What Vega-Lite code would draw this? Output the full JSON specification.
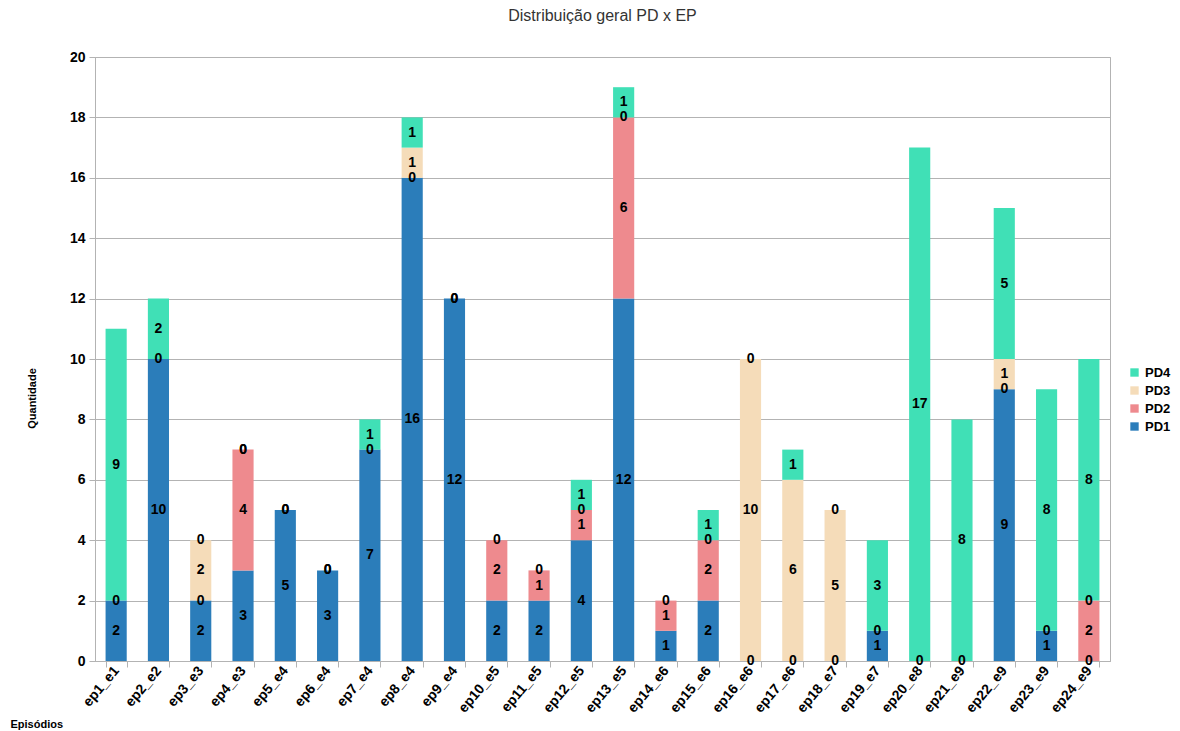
{
  "$schema": "https://vega.github.io/schema/vega-lite/v6.json",
  "autosize": "none",
  "width": 1015,
  "height": 604,
  "padding": {"left": 95, "top": 57, "right": 70, "bottom": 70},
  "background": "white",
  "config": {
    "font": "Liberation Sans",
    "view": {"stroke": "#b3b3b3", "strokeWidth": 1}
  },
  "title": {
    "text": "Distribuição geral PD x EP",
    "fontSize": 16,
    "fontWeight": "normal",
    "color": "#333333",
    "font": "Liberation Sans",
    "anchor": "middle",
    "offset": 26
  },
  "data": {
    "values": [
      {"ep": "ep1_e1", "pd": "PD1", "v": 2}, {"ep": "ep1_e1", "pd": "PD2", "v": 0}, {"ep": "ep1_e1", "pd": "PD4", "v": 9},
      {"ep": "ep2_e2", "pd": "PD1", "v": 10}, {"ep": "ep2_e2", "pd": "PD2", "v": 0}, {"ep": "ep2_e2", "pd": "PD4", "v": 2},
      {"ep": "ep3_e3", "pd": "PD1", "v": 2}, {"ep": "ep3_e3", "pd": "PD2", "v": 0}, {"ep": "ep3_e3", "pd": "PD3", "v": 2}, {"ep": "ep3_e3", "pd": "PD4", "v": 0},
      {"ep": "ep4_e3", "pd": "PD1", "v": 3}, {"ep": "ep4_e3", "pd": "PD2", "v": 4}, {"ep": "ep4_e3", "pd": "PD3", "v": 0}, {"ep": "ep4_e3", "pd": "PD4", "v": 0},
      {"ep": "ep5_e4", "pd": "PD1", "v": 5}, {"ep": "ep5_e4", "pd": "PD2", "v": 0}, {"ep": "ep5_e4", "pd": "PD3", "v": 0},
      {"ep": "ep6_e4", "pd": "PD1", "v": 3}, {"ep": "ep6_e4", "pd": "PD2", "v": 0}, {"ep": "ep6_e4", "pd": "PD3", "v": 0},
      {"ep": "ep7_e4", "pd": "PD1", "v": 7}, {"ep": "ep7_e4", "pd": "PD2", "v": 0}, {"ep": "ep7_e4", "pd": "PD4", "v": 1},
      {"ep": "ep8_e4", "pd": "PD1", "v": 16}, {"ep": "ep8_e4", "pd": "PD2", "v": 0}, {"ep": "ep8_e4", "pd": "PD3", "v": 1}, {"ep": "ep8_e4", "pd": "PD4", "v": 1},
      {"ep": "ep9_e4", "pd": "PD1", "v": 12}, {"ep": "ep9_e4", "pd": "PD2", "v": 0}, {"ep": "ep9_e4", "pd": "PD3", "v": 0},
      {"ep": "ep10_e5", "pd": "PD1", "v": 2}, {"ep": "ep10_e5", "pd": "PD2", "v": 2}, {"ep": "ep10_e5", "pd": "PD3", "v": 0},
      {"ep": "ep11_e5", "pd": "PD1", "v": 2}, {"ep": "ep11_e5", "pd": "PD2", "v": 1}, {"ep": "ep11_e5", "pd": "PD3", "v": 0},
      {"ep": "ep12_e5", "pd": "PD1", "v": 4}, {"ep": "ep12_e5", "pd": "PD2", "v": 1}, {"ep": "ep12_e5", "pd": "PD3", "v": 0}, {"ep": "ep12_e5", "pd": "PD4", "v": 1},
      {"ep": "ep13_e5", "pd": "PD1", "v": 12}, {"ep": "ep13_e5", "pd": "PD2", "v": 6}, {"ep": "ep13_e5", "pd": "PD3", "v": 0}, {"ep": "ep13_e5", "pd": "PD4", "v": 1},
      {"ep": "ep14_e6", "pd": "PD1", "v": 1}, {"ep": "ep14_e6", "pd": "PD2", "v": 1}, {"ep": "ep14_e6", "pd": "PD3", "v": 0},
      {"ep": "ep15_e6", "pd": "PD1", "v": 2}, {"ep": "ep15_e6", "pd": "PD2", "v": 2}, {"ep": "ep15_e6", "pd": "PD3", "v": 0}, {"ep": "ep15_e6", "pd": "PD4", "v": 1},
      {"ep": "ep16_e6", "pd": "PD1", "v": 0}, {"ep": "ep16_e6", "pd": "PD3", "v": 10}, {"ep": "ep16_e6", "pd": "PD4", "v": 0},
      {"ep": "ep17_e6", "pd": "PD1", "v": 0}, {"ep": "ep17_e6", "pd": "PD3", "v": 6}, {"ep": "ep17_e6", "pd": "PD4", "v": 1},
      {"ep": "ep18_e7", "pd": "PD1", "v": 0}, {"ep": "ep18_e7", "pd": "PD3", "v": 5}, {"ep": "ep18_e7", "pd": "PD4", "v": 0},
      {"ep": "ep19_e7", "pd": "PD1", "v": 1}, {"ep": "ep19_e7", "pd": "PD2", "v": 0}, {"ep": "ep19_e7", "pd": "PD4", "v": 3},
      {"ep": "ep20_e8", "pd": "PD1", "v": 0}, {"ep": "ep20_e8", "pd": "PD4", "v": 17},
      {"ep": "ep21_e9", "pd": "PD1", "v": 0}, {"ep": "ep21_e9", "pd": "PD4", "v": 8},
      {"ep": "ep22_e9", "pd": "PD1", "v": 9}, {"ep": "ep22_e9", "pd": "PD2", "v": 0}, {"ep": "ep22_e9", "pd": "PD3", "v": 1}, {"ep": "ep22_e9", "pd": "PD4", "v": 5},
      {"ep": "ep23_e9", "pd": "PD1", "v": 1}, {"ep": "ep23_e9", "pd": "PD2", "v": 0}, {"ep": "ep23_e9", "pd": "PD4", "v": 8},
      {"ep": "ep24_e9", "pd": "PD1", "v": 0}, {"ep": "ep24_e9", "pd": "PD2", "v": 2}, {"ep": "ep24_e9", "pd": "PD3", "v": 0}, {"ep": "ep24_e9", "pd": "PD4", "v": 8}
    ]
  },
  "transform": [
    {"stack": "v", "groupby": ["ep"], "sort": [{"field": "pd", "order": "ascending"}], "as": ["y0", "y1"]}
  ],
  "encoding": {
    "x": {
      "field": "ep",
      "type": "nominal",
      "sort": null,
      "scale": {"paddingInner": 0.5, "paddingOuter": 0.25},
      "axis": {
        "title": "Episódios",
        "titleFontSize": 11,
        "titleFontWeight": "bold",
        "titleColor": "#000000",
        "titleAnchor": "start",
        "titleAlign": "left",
        "titleBaseline": "alphabetic",
        "titleX": -85,
        "titleY": 66,
        "labelAngle": -50,
        "labelFontSize": 14,
        "labelFontWeight": "bold",
        "labelColor": "#000000",
        "labelPadding": 1,
        "tickBand": "extent",
        "tickColor": "#b3b3b3",
        "tickSize": 6,
        "domainColor": "#b3b3b3",
        "grid": false
      }
    }
  },
  "layer": [
    {
      "mark": {"type": "bar"},
      "encoding": {
        "y": {
          "field": "y1",
          "type": "quantitative",
          "scale": {"domain": [0, 20], "nice": false},
          "axis": {
            "title": "Quantidade",
            "titleFontSize": 11,
            "titleFontWeight": "bold",
            "titleColor": "#000000",
            "titleX": -58,
            "titleY": 341,
            "values": [0, 2, 4, 6, 8, 10, 12, 14, 16, 18, 20],
            "labelFontSize": 14,
            "labelFontWeight": "bold",
            "labelColor": "#000000",
            "labelPadding": 4,
            "tickColor": "#b3b3b3",
            "tickSize": 6,
            "domainColor": "#b3b3b3",
            "gridColor": "#b3b3b3",
            "gridWidth": 1
          }
        },
        "y2": {"field": "y0"},
        "color": {
          "field": "pd",
          "type": "nominal",
          "scale": {
            "domain": ["PD1", "PD2", "PD3", "PD4"],
            "range": ["#2b7dba", "#ee8a8e", "#f5dcb9", "#40e0b6"]
          },
          "legend": {
            "title": null,
            "values": ["PD4", "PD3", "PD2", "PD1"],
            "orient": "none",
            "legendX": 1033,
            "legendY": 309,
            "symbolType": "square",
            "symbolSize": 70,
            "symbolStrokeWidth": 0,
            "labelFontSize": 13,
            "labelFontWeight": "bold",
            "labelColor": "#000000",
            "rowPadding": 4,
            "labelOffset": 4
          }
        }
      }
    },
    {
      "transform": [
        {"fold": ["y0", "y1"], "as": ["edge", "pos"]}
      ],
      "mark": {"type": "text", "fontSize": 14, "fontWeight": "bold", "color": "#000000", "baseline": "middle", "align": "center"},
      "encoding": {
        "y": {"aggregate": "mean", "field": "pos", "type": "quantitative"},
        "detail": {"field": "pd"},
        "text": {"aggregate": "max", "field": "v", "type": "quantitative"}
      }
    }
  ]
}
